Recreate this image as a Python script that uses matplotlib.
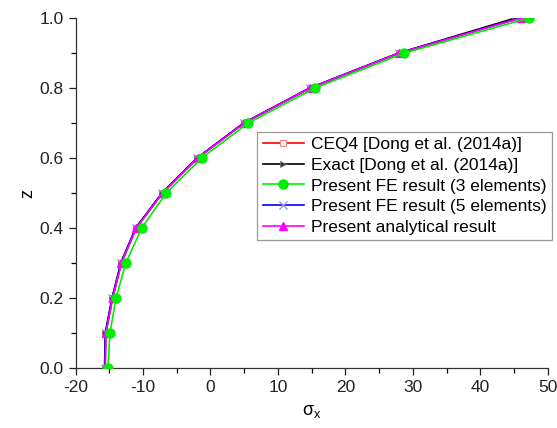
import numpy as np
import matplotlib.pyplot as plt
from matplotlib.ticker import MultipleLocator

plt.rcParams['font.family'] = ['Liberation Sans', 'DejaVu Sans']
plt.rcParams['axes.unicode_minus'] = False

# thickness coordinate
z = [0.0, 0.1, 0.2, 0.3, 0.4, 0.5, 0.6, 0.7, 0.8, 0.9, 1.0]

# sigma_x
ceq4 = [-15.6, -15.5, -14.5, -13.2, -11.0, -7.1, -1.9, 5.0, 14.8, 28.0, 45.8]
exact = [-15.7, -15.6, -14.6, -13.3, -11.1, -7.2, -2.0, 4.9, 14.7, 27.9, 45.2]
fe3 = [-15.2, -14.9, -14.0, -12.55, -10.2, -6.55, -1.3, 5.6, 15.5, 28.75, 47.2]
fe5 = [-15.65, -15.55, -14.55, -13.25, -11.05, -7.15, -1.95, 4.95, 14.75, 27.95, 45.9]
analytical = [-15.6, -15.5, -14.5, -13.2, -11.0, -7.1, -1.9, 5.0, 14.8, 28.0, 46.0]

labels = ['CEQ4 [Dong et al. (2014a)]',
          'Exact [Dong et al. (2014a)]',
          'Present FE result (3 elements)',
          'Present FE result (5 elements)',
          'Present analytical result']

fig = plt.figure(figsize=(5.57, 4.28), dpi=100)
ax = fig.add_axes([0.1356, 0.14, 0.848, 0.818])

ax.plot(ceq4, z, color='#ff0000', lw=1.2, marker='s', ms=5, mfc='white',
        mec='#ff8080', mew=0.8, label=labels[0], zorder=2)
ax.plot(exact, z, color='black', lw=1.2, marker='>', ms=5, mfc='#333333',
        mec='#777777', mew=0.6, label=labels[1], zorder=3)
ax.plot(fe3, z, color='#00ee00', lw=1.2, marker='o', ms=6.5, mfc='#00ee00',
        mec='#00ee00', label=labels[2], zorder=6)
ax.plot(fe5, z, color='#0000ff', lw=1.2, marker='x', ms=6, mec='#9999dd',
        mew=1.0, label=labels[3], zorder=4)
ax.plot(analytical, z, color='#ff00ff', lw=1.2, marker='^', ms=6,
        mfc='#ff00ff', mec='#ff00ff', label=labels[4], zorder=5)

ax.set_xlim(-20, 50)
ax.set_ylim(0, 1.0)
ax.xaxis.set_major_locator(MultipleLocator(10))
ax.xaxis.set_minor_locator(MultipleLocator(5))
ax.yaxis.set_major_locator(MultipleLocator(0.2))
ax.yaxis.set_minor_locator(MultipleLocator(0.1))
ax.yaxis.set_major_formatter(plt.FormatStrFormatter('%.1f'))
ax.tick_params(which='major', direction='out', length=5, width=0.9,
               labelsize=12.5, colors='#222222')
ax.tick_params(which='minor', direction='out', length=3.5, width=0.9)

for s in ['top', 'right']:
    ax.spines[s].set_visible(False)
for s in ['bottom', 'left']:
    ax.spines[s].set_linewidth(0.9)
    ax.spines[s].set_color('#333333')

ax.set_xlabel(r'$\mathregular{\sigma_x}$', fontsize=13, labelpad=6)
ax.set_ylabel('z', fontsize=13, labelpad=2)

leg = ax.legend(loc='upper left', bbox_to_anchor=(0.385, 0.675), fontsize=12.5,
                frameon=True, fancybox=False, edgecolor='#999999',
                framealpha=1, handlelength=2.4, handletextpad=0.4,
                borderaxespad=0, labelspacing=0.32, borderpad=0.3)
leg.get_frame().set_linewidth(0.9)

fig.savefig('out.png', dpi=100)
